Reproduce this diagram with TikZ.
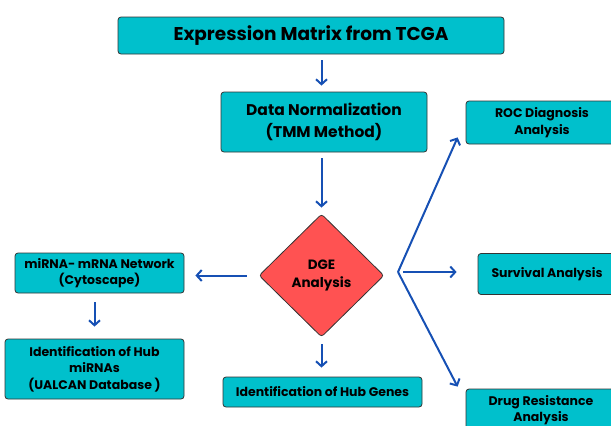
\documentclass[tikz,border=0pt]{standalone}
\usepackage{fontspec}
\setmainfont{Poppins}
\usetikzlibrary{shapes.geometric,arrows.meta}
\definecolor{boxteal}{RGB}{0,192,204}
\definecolor{dgered}{RGB}{255,82,82}
\definecolor{flowblue}{RGB}{22,80,180}
\tikzset{
    stepbox/.style={draw=black!80,fill=boxteal,rounded corners=3pt,line width=0.8pt,
        align=center,inner sep=0pt,font=\bfseries\fontsize{12.5}{16.5}\selectfont},
    flow/.style={draw=flowblue,line width=2pt,-{Straight Barb[length=5pt,width=11pt]}},
}
\begin{document}
\begin{tikzpicture}[x=1pt,y=-1pt]
    \useasboundingbox (0,0) rectangle (611,426);
    % main column
    \node[stepbox,minimum width=386pt,minimum height=37pt,font=\bfseries\fontsize{18.5}{20}\selectfont] (tcga) at (311,35.5) {Expression Matrix from TCGA};
    \node[stepbox,minimum width=206pt,minimum height=60pt,font=\bfseries\fontsize{15.5}{22}\selectfont] (norm) at (324,122) {Data Normalization\\(TMM Method)};
    \node[diamond,aspect=1,draw=black!80,fill=dgered,rounded corners=3pt,line width=0.8pt,
        minimum width=125pt,minimum height=123pt,inner sep=0pt,align=center,
        font=\bfseries\fontsize{13.5}{18}\selectfont] (dge) at (321.5,275.5) {DGE\\Analysis};
    \node[stepbox,minimum width=199pt,minimum height=30pt] (hubgene) at (322.5,392) {Identification of Hub Genes};
    % left branch
    \node[stepbox,minimum width=169pt,minimum height=40pt] (mirna) at (99.5,273) {miRNA- mRNA Network\\(Cytoscape)};
    \node[stepbox,minimum width=179pt,minimum height=60pt] (hubmir) at (94.5,369) {Identification of Hub\\miRNAs\\(UALCAN Database )};
    % right branch
    \node[stepbox,minimum width=152pt,minimum height=43pt] (roc) at (542,122.5) {ROC Diagnosis\\Analysis};
    \node[stepbox,minimum width=138pt,minimum height=41pt] (surv) at (547,274) {Survival Analysis};
    \node[stepbox,minimum width=150pt,minimum height=42pt] (drug) at (541,410) {Drug Resistance\\Analysis};
    \coordinate (fork) at (398,272);

    \draw[flow,shorten <=6pt,shorten >=6pt] (tcga.south -| dge) -- (norm.north -| dge);
    \draw[flow,shorten <=6pt,shorten >=6pt] (norm.south -| dge) -- (dge.north);
    \draw[flow,shorten <=12pt,shorten >=11pt] (dge.west) -- (mirna.east |- dge.west);
    \draw[flow,shorten <=9pt,shorten >=12pt] (mirna.south -| hubmir) -- (hubmir.north);
    \draw[flow,shorten <=7pt,shorten >=9pt] (dge.south) -- (hubgene.north -| dge);
    \draw[flow] (fork) -- ([xshift=-8pt,yshift=7pt]roc.south west);
    \draw[flow,shorten <=5pt,shorten >=21pt] (fork) -- (surv.west |- fork);
    \draw[flow] (fork) -- ([xshift=-8pt,yshift=2pt]drug.north west);
\end{tikzpicture}
\end{document}
